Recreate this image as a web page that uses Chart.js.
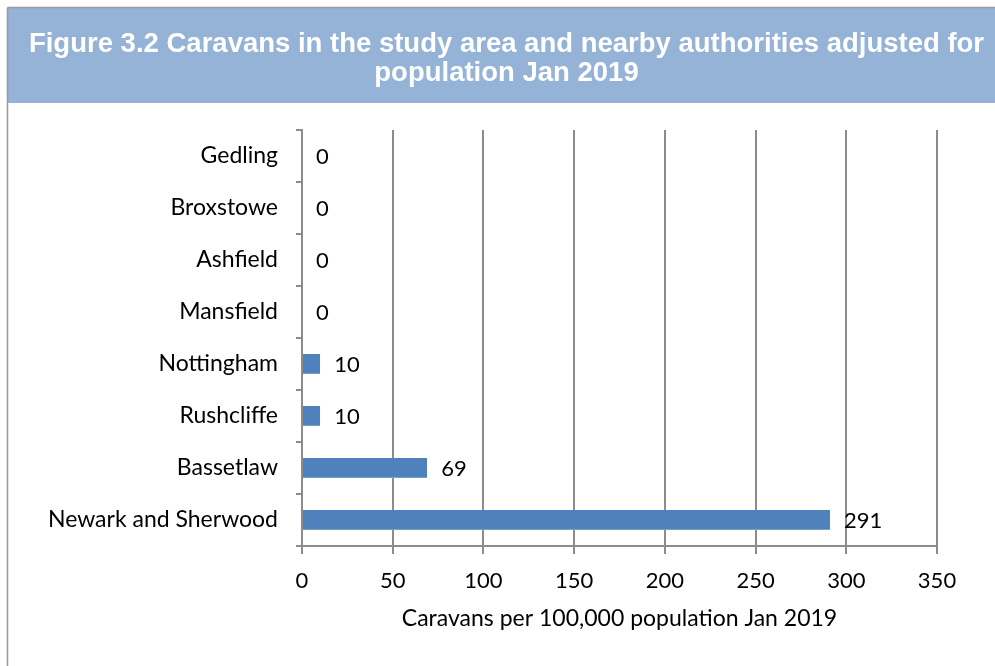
<!DOCTYPE html>
<html>
<head>
<meta charset="utf-8">
<script src="https://cdn.jsdelivr.net/npm/chart.js@4/dist/chart.umd.min.js"></script>
<style>
html,body{margin:0;padding:0;background:#fff;}
#wrap{width:995px;height:666px;position:relative;}
</style>
</head>
<body>
<div id="wrap"><canvas id="c" width="995" height="666"></canvas></div>
<script>
const categories = ["Gedling","Broxstowe","Ashfield","Mansfield","Nottingham","Rushcliffe","Bassetlaw","Newark and Sherwood"];
const caravansPer100k = [0,0,0,0,10,10,69,291];
const xTicks = [0,50,100,150,200,250,300,350];
const titleLines = ["Figure 3.2 Caravans in the study area and nearby authorities adjusted for","population Jan 2019"];
const xAxisTitle = "Caravans per 100,000 population Jan 2019";

const FONT = "Lato, 'Open Sans', sans-serif";
const GRID = "#8c8c8c";

const bannerPlugin = {
  id: 'banner',
  beforeDraw(chart) {
    const ctx = chart.ctx;
    ctx.save();
    ctx.fillStyle = '#fff';
    ctx.fillRect(0,0,chart.width,chart.height);
    ctx.fillStyle = '#95B3D7';
    ctx.fillRect(8, 8, chart.width - 8, 95);
    ctx.strokeStyle = '#999';
    ctx.lineWidth = 1.5;
    ctx.beginPath();
    ctx.moveTo(7.5, 7.5); ctx.lineTo(chart.width, 7.5);
    ctx.moveTo(7.5, 7.5); ctx.lineTo(7.5, chart.height);
    ctx.stroke();
    ctx.restore();
  }
};

const valueLabels = {
  id: 'valueLabels',
  afterDatasetsDraw(chart) {
    const ctx = chart.ctx;
    const meta = chart.getDatasetMeta(0);
    ctx.save();
    ctx.font = "22px " + FONT;
    ctx.fillStyle = '#000';
    ctx.textAlign = 'left';
    ctx.textBaseline = 'middle';
    meta.data.forEach((el, i) => {
      ctx.fillText(String(chart.data.datasets[0].data[i]), el.x + 14, el.y + 1);
    });
    ctx.restore();
  }
};

new Chart(document.getElementById('c'), {
  type: 'bar',
  data: {
    labels: categories,
    datasets: [{
      data: caravansPer100k,
      backgroundColor: '#4F81BD',
      borderColor: '#7EA1CC',
      borderWidth: {bottom:1, top:0, left:0, right:0},
      borderSkipped: false,
      categoryPercentage: 1,
      barPercentage: 0.385
    }]
  },
  options: {
    indexAxis: 'y',
    responsive: false,
    devicePixelRatio: 1,
    animation: false,
    layout: { padding: { top: 8, left: 18, right: 0, bottom: 0 } },
    plugins: {
      legend: { display: false },
      tooltip: { enabled: false },
      title: {
        display: true,
        text: titleLines,
        color: '#ffffff',
        font: { family: "'Liberation Sans', Arial, sans-serif", size: 27.5, weight: 'bold', lineHeight: 1.055 },
        padding: { top: 21.5, bottom: 42.5 }
      }
    },
    scales: {
      x: {
        type: 'linear',
        min: 0, max: 350,
        afterBuildTicks(scale) { scale.ticks = xTicks.map(v => ({value: v})); },
        afterFit(scale) { scale.height = 120; },
        ticks: { color: '#000', font: { family: FONT, size: 22 }, padding: 14 },
        grid: { color: GRID, lineWidth: 2, tickLength: 8, drawOnChartArea: true },
        border: { color: GRID, width: 2 },
        title: { display: true, text: xAxisTitle, color: '#000', font: { family: FONT, size: 23 }, padding: { top: 4, bottom: 34 } }
      },
      y: {
        type: 'category',
        afterFit(scale) { scale.width = 284; },
        ticks: { color: '#000', font: { family: FONT, size: 23 }, padding: 18 },
        grid: { color: GRID, lineWidth: 2, tickLength: 6, drawOnChartArea: false, offset: true },
        border: { color: GRID, width: 2 }
      },
      yPad: {
        type: 'category',
        position: 'right',
        labels: categories,
        afterFit(scale) { scale.width = 58; },
        ticks: { display: false },
        grid: { display: false },
        border: { display: false }
      }
    }
  },
  plugins: [bannerPlugin, valueLabels]
});
</script>
</body>
</html>
